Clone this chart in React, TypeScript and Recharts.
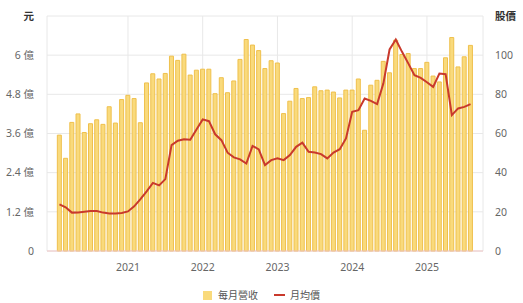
import { ComposedChart, Bar, Line, XAxis, YAxis, CartesianGrid } from 'recharts';

// 2020-02 ~ 2025-08
const months = [
  '2020-02', '2020-03', '2020-04', '2020-05', '2020-06', '2020-07', '2020-08', '2020-09', '2020-10', '2020-11', '2020-12',
  '2021-01', '2021-02', '2021-03', '2021-04', '2021-05', '2021-06', '2021-07', '2021-08', '2021-09', '2021-10', '2021-11', '2021-12',
  '2022-01', '2022-02', '2022-03', '2022-04', '2022-05', '2022-06', '2022-07', '2022-08', '2022-09', '2022-10', '2022-11', '2022-12',
  '2023-01', '2023-02', '2023-03', '2023-04', '2023-05', '2023-06', '2023-07', '2023-08', '2023-09', '2023-10', '2023-11', '2023-12',
  '2024-01', '2024-02', '2024-03', '2024-04', '2024-05', '2024-06', '2024-07', '2024-08', '2024-09', '2024-10', '2024-11', '2024-12',
  '2025-01', '2025-02', '2025-03', '2025-04', '2025-05', '2025-06', '2025-07', '2025-08',
];

// 每月營收 (億元)
const revenue = [
  3.55, 2.84, 3.94, 4.2, 3.63, 3.9, 4.02, 3.88, 4.42, 3.92, 4.64,
  4.77, 4.67, 3.93, 5.15, 5.43, 5.27, 5.44, 5.97, 5.84, 6.03, 5.39, 5.54,
  5.57, 5.57, 4.82, 5.31, 4.85, 5.21, 5.87, 6.48, 6.31, 6.14, 5.59, 5.83,
  5.76, 4.21, 4.59, 4.98, 4.67, 4.7, 5.03, 4.91, 4.93, 4.87, 4.69, 4.93,
  4.93, 5.27, 3.7, 5.08, 5.23, 5.81, 5.46, 6.46, 6.02, 6.05, 5.59, 5.59,
  5.78, 5.36, 5.18, 5.92, 6.54, 5.64, 5.95, 6.3,
];

// 月均價 (元)
const price = [
  23.8, 22.3, 19.6, 19.7, 20.1, 20.4, 20.4, 19.6, 19.2, 19.1, 19.4,
  20.2, 22.8, 26.5, 30.5, 34.8, 33.5, 36.7, 54.1, 56.3, 57.0, 56.8, 62.0,
  67.2, 66.3, 59.6, 56.6, 50.2, 47.8, 46.8, 44.7, 53.7, 51.9, 43.9, 46.4,
  47.4, 46.4, 49.0, 53.2, 55.3, 50.7, 50.3, 49.5, 47.3, 50.3, 52.0, 57.5,
  71.1, 71.9, 77.9, 76.7, 75.0, 85.5, 102.9, 108.0, 101.7, 95.8, 89.8, 88.4,
  86.2, 83.8, 90.6, 90.3, 69.4, 72.8, 73.6, 75.0,
];

const yearTicks = ['2021', '2022', '2023', '2024', '2025'];
const leftTicks = [0, 1.2, 2.4, 3.6, 4.8, 6, 7.2];
const rightTicks = [0, 20, 40, 60, 80, 100, 120];

const data = months.map((m, i) => ({ i, month: m, revenue: revenue[i], price: price[i] }));
const xTicks = yearTicks.map((y) => months.indexOf(`${y}-01`));

const FONT = '"Noto Sans", "Noto Sans CJK TC", sans-serif';
const BAR_FILL = '#f9da7c';
const BAR_STROKE = '#efc04c';
const LINE_COLOR = '#c9392c';

const LeftTick = ({ x, y, payload }: any) => {
  const v = payload.value;
  const top = v === 7.2;
  const label = top ? '元' : v === 0 ? '0' : `${v} 億`;
  return (
    <text x={x} y={y} dy="0.355em" textAnchor="end" fontSize={10.5} fontFamily={FONT}
      fill={top ? '#333' : '#666'} fontWeight={top ? 700 : 400}>
      {label}
    </text>
  );
};

const RightTick = ({ x, y, payload }: any) => {
  const v = payload.value;
  const top = v === 120;
  return (
    <text x={x} y={y} dy="0.355em" textAnchor="start" fontSize={10.5} fontFamily={FONT}
      fill={top ? '#333' : '#666'} fontWeight={top ? 700 : 400}>
      {top ? '股價' : v}
    </text>
  );
};

const App = () => {
  return (
    <div style={{ position: 'relative', width: 523, height: 303, fontFamily: FONT }}>
      <style>{'body{margin:0}'}</style>
      <ComposedChart width={523} height={303} data={data} margin={{ top: 16, right: 0, bottom: 0, left: 0 }}>
        <CartesianGrid yAxisId="left" stroke="#e8e8e8" />
        <XAxis
          dataKey="i"
          type="number"
          domain={[-2, 68]}
          ticks={xTicks}
          tickFormatter={(i: number) => months[i].slice(0, 4)}
          height={52}
          tickLine={false}
          tickSize={6}
          tickMargin={7}
          axisLine={{ stroke: '#f0c6c6' }}
          tick={{ fontSize: 10.5, fill: '#666', fontFamily: FONT }}
        />
        <YAxis
          yAxisId="left"
          width={47}
          domain={[0, 7.2]}
          ticks={leftTicks}
          axisLine={false}
          tickLine={false}
          tickSize={6}
          tickMargin={7}
          tick={<LeftTick />}
        />
        <YAxis
          yAxisId="right"
          orientation="right"
          width={40}
          domain={[0, 120]}
          ticks={rightTicks}
          axisLine={false}
          tickLine={false}
          tickSize={6}
          tickMargin={6}
          tick={<RightTick />}
        />
        <Bar yAxisId="left" dataKey="revenue" name="每月營收" barSize={4} fill={BAR_FILL} stroke={BAR_STROKE}
          strokeWidth={1} isAnimationActive={false} />
        <Line yAxisId="right" dataKey="price" name="月均價" type="linear" stroke={LINE_COLOR} strokeWidth={2}
          dot={false} activeDot={false} isAnimationActive={false} />
      </ComposedChart>

      <div style={{ position: 'absolute', top: 287, left: 0, width: 523, display: 'flex', justifyContent: 'center',
        alignItems: 'center', fontSize: 10, color: '#555', lineHeight: '16px' }}>
        <span style={{ display: 'inline-block', width: 9, height: 9, background: BAR_FILL, marginRight: 6 }} />
        <span>每月營收</span>
        <span style={{ display: 'inline-block', width: 11, height: 2, background: LINE_COLOR, marginLeft: 16, marginRight: 5 }} />
        <span>月均價</span>
      </div>
    </div>
  );
};

export default App;
